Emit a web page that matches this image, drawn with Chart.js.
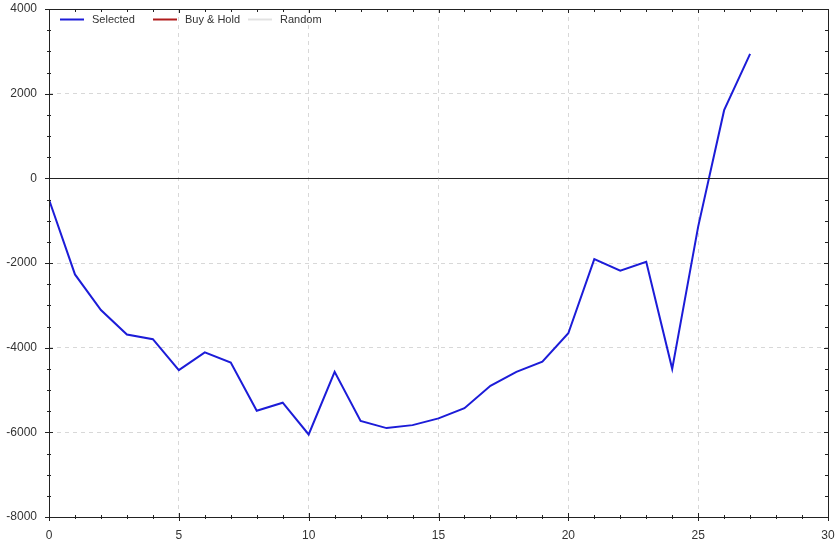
<!DOCTYPE html>
<html><head><meta charset="utf-8">
<script src="https://cdn.jsdelivr.net/npm/chart.js@4"></script>
<style>html,body{margin:0;padding:0;background:#fff}#wrap{width:839px;height:542px}</style>
</head><body><div id="wrap"><canvas id="c" width="839" height="542"></canvas></div>
<script>
const trades = [0,1,2,3,4,5,6,7,8,9,10,11,12,13,14,15,16,17,18,19,20,21,22,23,24,25,26,27];
const selected = [-500,-2270,-3110,-3690,-3800,-4530,-4110,-4350,-5490,-5300,-6050,-4570,-5730,-5900,-5830,-5670,-5430,-4900,-4570,-4330,-3660,-1910,-2180,-1970,-4500,-1140,1610,2940];
const buyHold = [];
const randomSeries = [];
const seriesNames = ['Selected','Buy & Hold','Random'];
const xTickLabels = [0,5,10,15,20,25,30];
const yTickLabels = [-8000,-6000,-4000,-2000,0,2000,4000];

const FONT = 'Liberation Sans, Arial, sans-serif';
const pts = a => a.map((v,i)=>({x:trades[i], y:v}));

const decor = {
  id:'decor',
  afterDraw(chart){
    const ctx = chart.ctx, a = chart.chartArea, xs = chart.scales.x, ys = chart.scales.y;
    ctx.save();
    ctx.strokeStyle = '#222'; ctx.lineWidth = 1;
    const y0 = Math.round(ys.getPixelForValue(0))+0.5;
    ctx.beginPath(); ctx.moveTo(a.left,y0); ctx.lineTo(a.right,y0); ctx.stroke();
    ctx.strokeRect(Math.round(a.left)+0.5, Math.round(a.top)+0.5, Math.round(a.right-a.left), Math.round(a.bottom-a.top));
    ctx.beginPath();
    for(let v=0; v<=30; v++){
      const px = Math.round(xs.getPixelForValue(v))+0.5;
      const major = v%5===0;
      ctx.moveTo(px, a.bottom-(major?4:2)); ctx.lineTo(px, a.bottom+(major?4:2));
      ctx.moveTo(px, a.top); ctx.lineTo(px, a.top+(major?4:3));
    }
    for(let v=-8000; v<=4000; v+=500){
      const py = Math.round(ys.getPixelForValue(v))+0.5;
      const major = v%2000===0;
      ctx.moveTo(a.left-(major?4:2), py); ctx.lineTo(a.left+(major?4:2), py);
      ctx.moveTo(a.right, py); ctx.lineTo(a.right-(major?4:3), py);
    }
    ctx.stroke();
    ctx.font = '11px '+FONT; ctx.textBaseline='middle'; ctx.fillStyle='#333';
    const ly = 19.5;
    const items = [[60,92],[153,185],[248,280]];
    chart.data.datasets.forEach((ds,i)=>{
      const [sx,tx] = items[i];
      ctx.strokeStyle = ds.borderColor; ctx.lineWidth = 2;
      ctx.beginPath(); ctx.moveTo(sx,ly); ctx.lineTo(sx+24,ly); ctx.stroke();
      ctx.fillText(ds.label, tx, ly);
    });
    ctx.restore();
  }
};

new Chart(document.getElementById('c'), {
  type:'line',
  data:{datasets:[
    {label:seriesNames[0], data:pts(selected), borderColor:'#1c1cd8', borderWidth:2, pointRadius:0, tension:0, fill:false},
    {label:seriesNames[1], data:pts(buyHold), borderColor:'#b01c1c', borderWidth:2, pointRadius:0},
    {label:seriesNames[2], data:pts(randomSeries), borderColor:'#e2e2e2', borderWidth:2, pointRadius:0}
  ]},
  options:{
    responsive:false, animation:false, devicePixelRatio:1,
    layout:{padding:{top:9,right:11,left:0,bottom:0}},
    plugins:{legend:{display:false}, tooltip:{enabled:false}},
    scales:{
      x:{type:'linear', min:0, max:30,
        afterFit(s){ s.height = 25; s.paddingLeft = 0; s.paddingRight = 0; },
        ticks:{stepSize:1, autoSkip:false, maxRotation:0, padding:11, color:'#333', font:{family:FONT,size:12},
          callback:v=> xTickLabels.includes(v) ? String(v) : ''},
        grid:{drawTicks:false, color:c=> (c.tick && xTickLabels.includes(c.tick.value) ? '#d8d8d8' : 'rgba(0,0,0,0)')},
        border:{display:false, dash:[4,4]}
      },
      y:{type:'linear', min:-8000, max:4000,
        afterFit(s){ s.width = 49; s.paddingTop = 0; s.paddingBottom = 0; },
        ticks:{stepSize:500, autoSkip:false, padding:12, color:'#333', font:{family:FONT,size:12},
          callback:v=> yTickLabels.includes(v) ? String(v) : ''},
        grid:{drawTicks:false, color:c=> (c.tick && yTickLabels.includes(c.tick.value) ? '#d8d8d8' : 'rgba(0,0,0,0)')},
        border:{display:false, dash:[4,4]}
      }
    }
  },
  plugins:[decor]
});
</script></body></html>
